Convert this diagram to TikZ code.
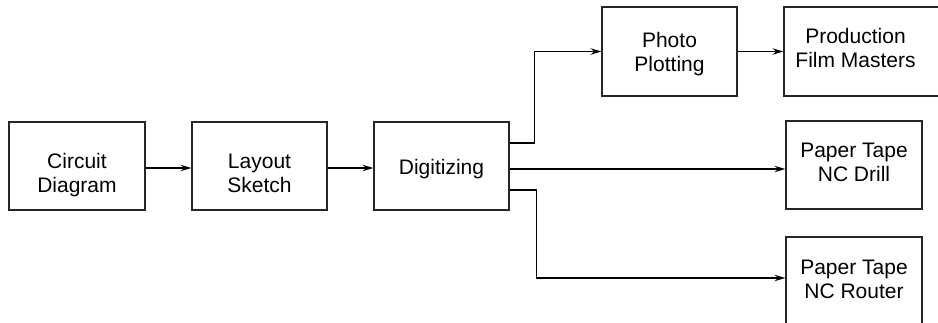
\documentclass[tikz,border=0pt]{standalone}
\usepackage{fontspec}
\setmainfont{Liberation Sans}
\usetikzlibrary{arrows.meta}
\begin{document}
\begin{tikzpicture}[x=1pt,y=-1pt,
  box/.style={draw=black!85, line width=1.3pt, minimum width=136pt, minimum height=88pt,
    inner sep=0pt},
  txt/.style={align=center, inner sep=0pt, font=\fontsize{21}{24}\selectfont},
  arr/.style={line width=1.2pt, -{Stealth[length=11pt,width=6.5pt,inset=4pt]}}]
\useasboundingbox (0,0) rectangle (938,322);
\clip (0,0) rectangle (938,322);
\node[box, label={[txt, name=circt, yshift=-9.5pt]center:{Circuit\\Diagram}}] (circ) at (77,166) {};
\node[box, minimum width=135pt, label={[txt, name=layt, yshift=-7.5pt]center:{Layout\\Sketch}}] (lay) at (259.5,166) {};
\node[box, minimum width=135pt, label={[txt, name=digt, yshift=-3.5pt]center:{Digitizing}}] (dig) at (441.5,166) {};
\node[box, minimum width=135pt, minimum height=89pt, label={[txt, name=photot, yshift=-2.5pt]center:{Photo\\Plotting}}] (photo) at (669.5,51.5) {};
\node[box, minimum width=176pt, minimum height=89pt, label={[txt, name=prodt, xshift=-16.5pt, yshift=4pt]center:{Production\\Film Masters}}] (prod) at (872,51.5) {};
\node[box, label={[txt, name=drillt, yshift=3pt]center:{Paper Tape\\NC Drill}}] (drill) at (854,165) {};
\node[box, label={[txt, name=routert, yshift=1.4pt]center:{Paper Tape\\NC Router}}] (router) at (854,281) {};
\draw[arr] ([yshift=-2pt]circ.east) -- ([yshift=-2pt]lay.west);
\draw[arr] ([yshift=-2pt]lay.east) -- ([yshift=-2pt]dig.west);
\draw[arr] (photo.east) -- (prod.west);
\draw[arr] ([yshift=23pt]dig.east) -- ++(25,0) |- (photo.west);
\draw[arr] ([yshift=-3pt]dig.east) -- ([yshift=-3pt]dig.east -| drill.west);
\draw[arr] ([yshift=-24pt]dig.east) -- ++(27,0) |- ([yshift=3pt]router.west);
\end{tikzpicture}
\end{document}
